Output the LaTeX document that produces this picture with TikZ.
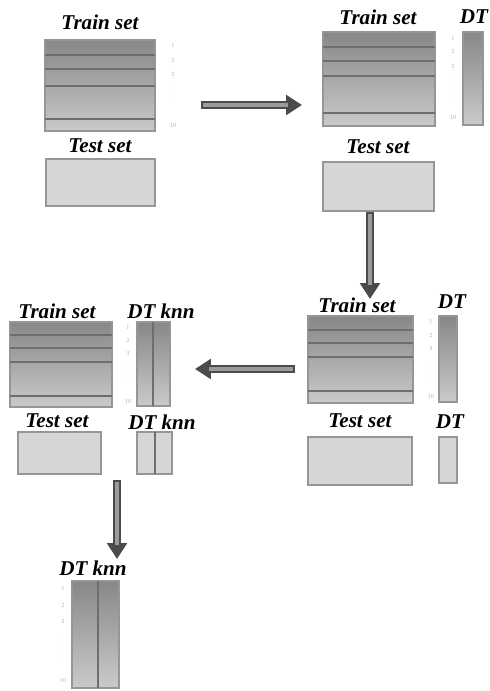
\documentclass[tikz,border=0pt]{standalone}
\usepackage{fontspec}
\setmainfont{Liberation Serif}
\usetikzlibrary{arrows.meta}

\definecolor{boxtop}{RGB}{135,135,135}
\definecolor{boxbot}{RGB}{202,202,202}
\definecolor{testfill}{RGB}{214,214,214}
\definecolor{edge}{RGB}{150,150,150}
\definecolor{rowline}{RGB}{110,110,110}
\definecolor{arrowdark}{RGB}{75,75,75}
\definecolor{arrowlight}{RGB}{155,155,155}

\begin{document}
\begin{tikzpicture}[x=0.02cm,y=-0.02cm,
	setlabel/.style={font=\fontsize{12}{14}\selectfont\bfseries\itshape},
	trainbox/.style={draw=edge,line width=0.6pt,top color=boxtop,bottom color=boxbot},
	testbox/.style={draw=edge,line width=0.6pt,fill=testfill},
	rowline/.style={draw=rowline,line width=0.8pt},
	num/.style={font=\fontsize{3.5}{4}\selectfont,text=gray!60,inner sep=0pt},
	arrowout/.style={draw=arrowdark,line width=4pt,-{Triangle[length=9pt,width=11pt]}},
	arrowin/.style={draw=arrowlight,line width=1.8pt,shorten <=1.2pt,shorten >=8pt}]
	% page frame
	\useasboundingbox (0,0) rectangle (490,691);

	% first step: folds of the train set
	\node[setlabel] (trainA) at (100,22) {Train set};
	\draw[trainbox] (45,40) rectangle (155,131);
	\foreach \y in {55,69,86,119} {
		\draw[rowline] (45,\y) -- (155,\y);
	}
	\foreach \n/\y [count=\i] in {1/45,2/60,3/74,./88,./95,./103,10/125} {
		\node[num] (numA\i) at (173,\y) {\n};
	}
	\node[setlabel] (testA) at (100,146) {Test set};
	\draw[testbox] (46,159) rectangle (155,206);

	% second step: DT trained on each fold
	\node[setlabel] (trainB) at (378,17) {Train set};
	\draw[trainbox] (323,32) rectangle (435,126);
	\foreach \y in {47,61,76,113} {
		\draw[rowline] (323,\y) -- (435,\y);
	}
	\foreach \n/\y [count=\i] in {1/38,2/51,3/66,./80,./88,./96,10/117} {
		\node[num] (numB\i) at (453,\y) {\n};
	}
	\node[setlabel] (dtB) at (474,17) {DT};
	\draw[trainbox] (463,32) rectangle (483,125);
	\node[setlabel] (testB) at (378,147) {Test set};
	\draw[testbox] (323,162) rectangle (434,211);

	% third step: DT on the test set
	\node[setlabel] (trainC) at (357,305) {Train set};
	\draw[trainbox] (308,316) rectangle (413,403);
	\foreach \y in {330,343,357,391} {
		\draw[rowline] (308,\y) -- (413,\y);
	}
	\foreach \n/\y [count=\i] in {1/321,2/335,3/348,./362,./370,./378,10/396} {
		\node[num] (numC\i) at (431,\y) {\n};
	}
	\node[setlabel] (dtC) at (452,302) {DT};
	\draw[trainbox] (439,316) rectangle (457,402);
	\node[setlabel] (testC) at (360,421) {Test set};
	\draw[testbox] (308,437) rectangle (412,485);
	\node[setlabel] (dtCt) at (450,422) {DT};
	\draw[testbox] (439,437) rectangle (457,483);

	% fourth step: DT and knn side by side
	\node[setlabel] (trainD) at (57,311) {Train set};
	\draw[trainbox] (10,322) rectangle (112,407);
	\foreach \y in {335,348,362,396} {
		\draw[rowline] (10,\y) -- (112,\y);
	}
	\foreach \n/\y [count=\i] in {1/327,2/340,3/353,./365,./374,./383,10/401} {
		\node[num] (numD\i) at (128,\y) {\n};
	}
	\node[setlabel] (dtknnD) at (161,311) {DT knn};
	\draw[trainbox] (137,322) rectangle (170,406);
	\draw[rowline] (153,322) -- (153,406);
	\node[setlabel] (testD) at (57,421) {Test set};
	\draw[testbox] (18,432) rectangle (101,474);
	\node[setlabel] (dtknnDt) at (162,422) {DT knn};
	\draw[testbox] (137,432) rectangle (172,474);
	\draw[rowline] (155,432) -- (155,474);

	% last step: DT knn for all folds
	\node[setlabel] (dtknnE) at (93,568) {DT knn};
	\draw[trainbox] (72,581) rectangle (119,688);
	\draw[rowline] (98,581) -- (98,688);
	\foreach \n/\y [count=\i] in {1/588,2/605,3/621,./640,./648,./657,10/680} {
		\node[num] (numE\i) at (63,\y) {\n};
	}

	% arrows between the steps
	\coordinate (a1s) at (201,105);
	\coordinate (a1e) at (302,105);
	\coordinate (a2s) at (370,212);
	\coordinate (a2e) at (370,299);
	\coordinate (a3s) at (295,369);
	\coordinate (a3e) at (195,369);
	\coordinate (a4s) at (117,480);
	\coordinate (a4e) at (117,559);
	\foreach \s/\e in {a1s/a1e,a2s/a2e,a3s/a3e,a4s/a4e} {
		\draw[arrowout] (\s) -- (\e);
		\draw[arrowin] (\s) -- (\e);
	}
\end{tikzpicture}
\end{document}
